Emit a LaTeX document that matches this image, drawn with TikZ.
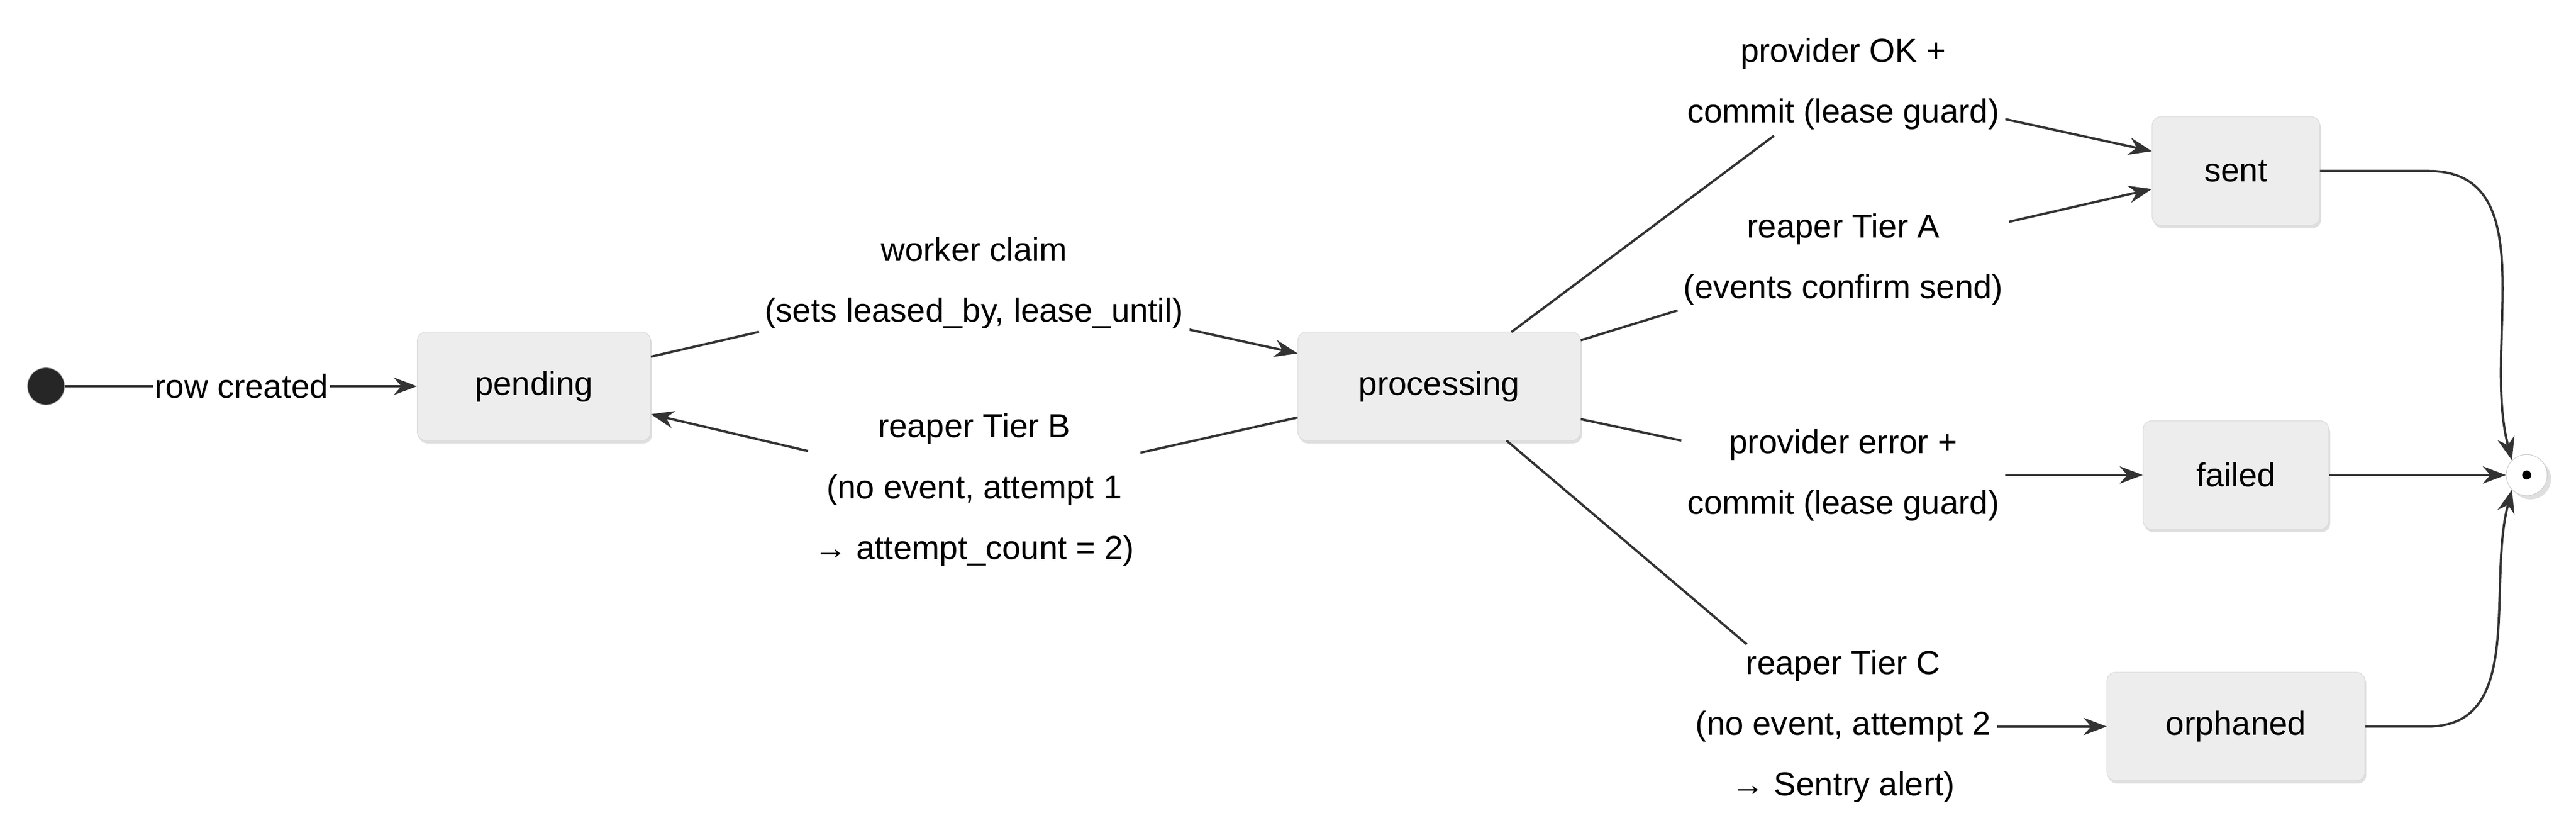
\documentclass[tikz,border=0pt]{standalone}
\usepackage{fontspec}
\setmainfont{Liberation Sans}
\usetikzlibrary{arrows.meta,shadows}
\begin{document}
\begin{tikzpicture}[x=0.04cm,y=-0.04cm,
  state/.style={draw=black!15,fill=black!7,rounded corners=6pt,drop shadow={opacity=0.25,shadow xshift=1pt,shadow yshift=-2pt},minimum height=2.64cm,font=\fontsize{23}{28}\selectfont},
  lbl/.style={fill=white,inner sep=4pt,align=center,font=\fontsize{23}{42}\selectfont},
  conn/.style={draw=black!80,line width=1.6pt},
  arr/.style={conn,-{Stealth[length=16pt,width=12pt]}}]
\useasboundingbox (0,0) rectangle (1568,511);
\node[circle,fill=black!85,draw=black!40,minimum size=0.9cm,inner sep=0] (start) at (28,235) {};
\node[state,minimum width=5.68cm] (pending) at (325,235) {pending};
\node[state,minimum width=6.88cm] (processing) at (876,235) {processing};
\node[state,minimum width=4.08cm] (sent) at (1361,104) {sent};
\node[state,minimum width=4.52cm] (failed) at (1361,289) {failed};
\node[state,minimum width=6.28cm] (orphaned) at (1361,442) {orphaned};
\node[circle,draw=black!20,fill=white,minimum size=1cm,inner sep=0,drop shadow={opacity=0.25}] (end) at (1538,289) {};
\node[circle,fill=black,minimum size=0.22cm,inner sep=0] (enddot) at (end.center) {};

\node[lbl,inner sep=1pt] (l0) at (147,235) {row created};
\node[lbl] (l1) at (593,172) {worker claim\\(sets leased\_by, lease\_until)};
\node[lbl] (l2) at (593,298) {reaper Tier B\\(no event, attempt 1\\→ attempt\_count = 2)};
\node[lbl] (l3) at (1122,51) {provider OK +\\commit (lease guard)};
\node[lbl] (l4) at (1122,158) {reaper Tier A\\(events confirm send)};
\node[lbl] (l5) at (1122,289) {provider error +\\commit (lease guard)};
\node[lbl] (l6) at (1122,442) {reaper Tier C\\(no event, attempt 2\\→ Sentry alert)};

\draw[conn] (start) -- (l0); \draw[arr] (l0) -- (pending);
\draw[conn] (pending.east |- 217,217) -- (l1); \draw[arr] (l1) -- (processing.west |- 215,215);
\draw[conn] (processing.west |- 254,254) -- (l2); \draw[arr] (l2) -- (pending.east |- 252,252);
\draw[conn] (920,202) -- (l3); \draw[arr] (l3) -- (sent.west |- 92,92);
\draw[conn] (processing.east |- 207,207) -- (l4); \draw[arr] (l4) -- (sent.west |- 115,115);
\draw[conn] (processing.east |- 255,255) -- (l5); \draw[arr] (l5) -- (failed);
\draw[conn] (917,268) -- (l6); \draw[arr] (l6) -- (orphaned);
\draw[arr] (sent) -- (1478,104) to[out=0,in=105] (end.north west);
\draw[arr] (failed) -- (end);
\draw[arr] (orphaned) -- (1478,442) to[out=0,in=-105] (end.south west);
\end{tikzpicture}
\end{document}
